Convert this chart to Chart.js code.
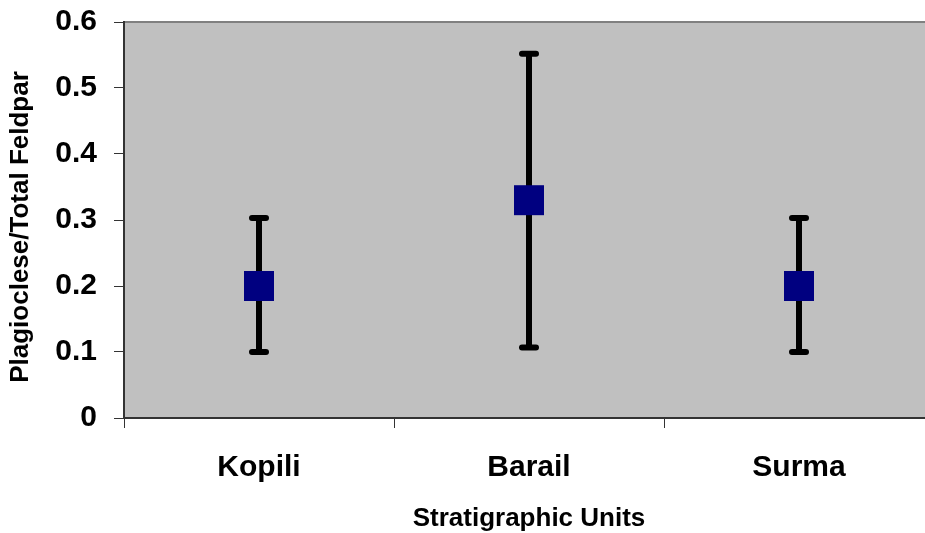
<!DOCTYPE html>
<html>
<head>
<meta charset="utf-8">
<script src="https://cdn.jsdelivr.net/npm/chart.js@4.4.0/dist/chart.umd.min.js"></script>
<style>
  html, body { margin: 0; padding: 0; background: #ffffff; overflow: hidden; width: 925px; height: 533px; }
  canvas { display: block; }
</style>
</head>
<body>
<canvas id="c" width="934" height="533" style="width:934px;height:533px"></canvas>
<script>
const categories = ['Kopili', 'Barail', 'Surma'];
const meanValues = [0.2, 0.33, 0.2];
const lowValues = [0.1, 0.107, 0.1];
const highValues = [0.303, 0.552, 0.303];
const yTickValues = [0, 0.1, 0.2, 0.3, 0.4, 0.5, 0.6];
const yTickLabels = ['0', '0.1', '0.2', '0.3', '0.4', '0.5', '0.6'];
const xTitle = 'Stratigraphic Units';
const yTitle = 'Plagioclese/Total Feldpar';

const FONT = '"Liberation Sans", Arial, Helvetica, sans-serif';

const plotBackground = {
  id: 'plotBackground',
  beforeDraw(chart) {
    const { ctx, chartArea: a } = chart;
    ctx.save();
    ctx.fillStyle = '#C0C0C0';
    ctx.fillRect(a.left, a.top, a.right - a.left, a.bottom - a.top);
    ctx.strokeStyle = '#808080';
    ctx.lineWidth = 2;
    ctx.beginPath();
    ctx.moveTo(a.left, a.top);
    ctx.lineTo(a.right, a.top);
    ctx.stroke();
    ctx.restore();
  }
};

const yAxisTitle = {
  id: 'yAxisTitle',
  afterDraw(chart) {
    const { ctx, chartArea: a } = chart;
    ctx.save();
    ctx.translate(21, (a.top + a.bottom) / 2 + 7);
    ctx.rotate(-Math.PI / 2);
    ctx.font = 'bold 26px ' + FONT;
    ctx.fillStyle = '#000000';
    ctx.textAlign = 'center';
    ctx.textBaseline = 'middle';
    ctx.fillText(yTitle, 0, 0);
    ctx.restore();
  }
};

const errorBars = {
  id: 'errorBars',
  beforeDatasetsDraw(chart) {
    const { ctx, scales: { x, y } } = chart;
    ctx.save();
    ctx.strokeStyle = '#000000';
    ctx.lineWidth = 6;
    categories.forEach((c, i) => {
      const px = Math.round(x.getPixelForValue(i));
      const yl = y.getPixelForValue(lowValues[i]);
      const yh = y.getPixelForValue(highValues[i]);
      ctx.lineCap = 'butt';
      ctx.beginPath();
      ctx.moveTo(px, yl);
      ctx.lineTo(px, yh);
      ctx.stroke();
      ctx.lineCap = 'round';
      ctx.beginPath();
      ctx.moveTo(px - 7, yl);
      ctx.lineTo(px + 7, yl);
      ctx.moveTo(px - 7, yh);
      ctx.lineTo(px + 7, yh);
      ctx.stroke();
    });
    ctx.restore();
  }
};

new Chart(document.getElementById('c'), {
  type: 'line',
  data: {
    labels: categories,
    datasets: [{
      data: meanValues,
      showLine: false,
      clip: false,
      pointStyle: 'rect',
      pointRadius: 21.2,
      pointHoverRadius: 21.2,
      pointBackgroundColor: '#000080',
      pointBorderWidth: 0,
      borderWidth: 0
    }]
  },
  plugins: [plotBackground, errorBars, yAxisTitle],
  options: {
    responsive: false,
    devicePixelRatio: 1,
    animation: false,
    layout: { autoPadding: false, padding: { top: 22, left: 0, right: 0, bottom: 0 } },
    plugins: { legend: { display: false }, tooltip: { enabled: false } },
    scales: {
      x: {
        type: 'category',
        offset: true,
        afterFit(scale) {
          scale.height = 115;
          scale.paddingLeft = 0; scale.paddingRight = 0; scale.paddingTop = 0; scale.paddingBottom = 0;
        },
        grid: { display: true, offset: true, drawOnChartArea: false, drawTicks: true, tickLength: 10, color: '#333333', lineWidth: 1 },
        border: { display: true, color: '#333333', width: 2 },
        ticks: { color: '#000000', padding: 22, font: { family: FONT, size: 30, weight: 'bold' } },
        title: { display: true, text: xTitle, color: '#000000', padding: { top: 0, bottom: 1 }, font: { family: FONT, size: 26, weight: 'bold', lineHeight: 1 } }
      },
      y: {
        min: 0,
        max: 0.6,
        afterFit(scale) {
          scale.width = 124;
          scale.paddingLeft = 0; scale.paddingRight = 0; scale.paddingTop = 0; scale.paddingBottom = 0;
        },
        afterBuildTicks(scale) { scale.ticks = yTickValues.map(v => ({ value: v })); },
        grid: { display: true, drawOnChartArea: false, drawTicks: true, tickLength: 10, color: '#333333', lineWidth: 1 },
        border: { display: true, color: '#333333', width: 2 },
        ticks: {
          color: '#000000', padding: 17,
          font: { family: FONT, size: 30, weight: 'bold' },
          callback(value) { const i = yTickValues.indexOf(value); return i >= 0 ? yTickLabels[i] : ''; }
        },
        title: { display: false, text: yTitle }
      }
    }
  }
});
</script>
</body>
</html>
